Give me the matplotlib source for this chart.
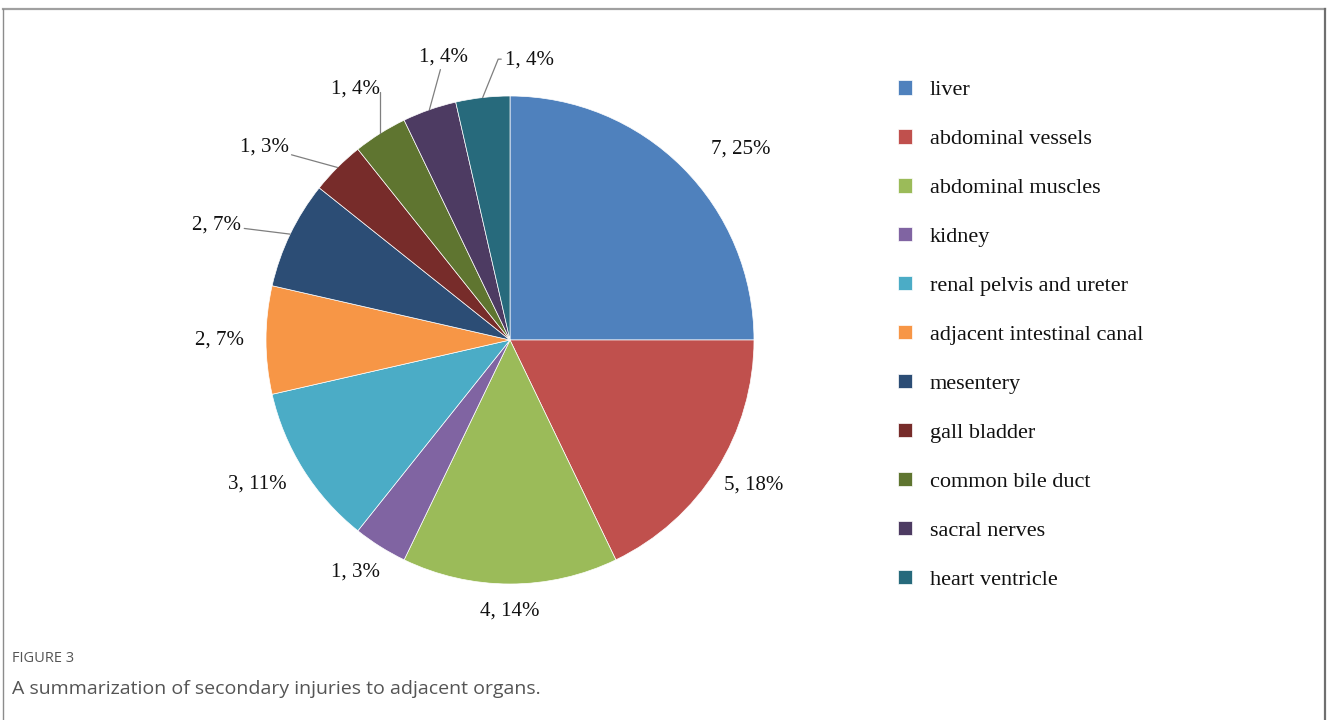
import numpy as np
import matplotlib
matplotlib.use('Agg')
import matplotlib.pyplot as plt
from matplotlib.lines import Line2D

organs = ['liver', 'abdominal vessels', 'abdominal muscles', 'kidney',
          'renal pelvis and ureter', 'adjacent intestinal canal', 'mesentery',
          'gall bladder', 'common bile duct', 'sacral nerves', 'heart ventricle']
counts = [7, 5, 4, 1, 3, 2, 2, 1, 1, 1, 1]
pct_labels = ['25%', '18%', '14%', '3%', '11%', '7%', '7%', '3%', '4%', '4%', '4%']
colors = ['#4F81BD', '#C0504D', '#9BBB59', '#8064A2', '#4BACC6', '#F79646',
          '#2C4D75', '#772C2A', '#5F7530', '#4D3B62', '#276A7C']

# label layout: distance from centre (in radii), angle tweak (deg), leader style
lab_dist = [1.23, 1.16, 1.11, 1.14, 1.19, 1.19, 1.29, 1.28, 1.21, 1.19, 1.15]
lab_rot = [-5.4, 1.4, 0, -1.5, -2.5, 0, 4.3, 6.9, -0.5, -6.1, -10.5]
leader = [None, None, None, None, None, None, 'straight', 'straight', 'elbow', 'straight', 'left']

W, H = 1327, 720
fig = plt.figure(figsize=(W / 100, H / 100), dpi=100)
ax = fig.add_axes([0, 0, 1, 1])

# pie centre at pixel (510, 340), radius 244 px
cx, cy, R = 510, 340, 244

wedges, _ = ax.pie(counts, colors=colors, startangle=90, counterclock=False,
                   radius=1, center=(0, 0), frame=True,
                   wedgeprops=dict(edgecolor='white', linewidth=0.5))
ax.set_xlim(-cx / R, (W - cx) / R)
ax.set_ylim(-(H - cy) / R, cy / R)
ax.axis('off')

serif = 'Liberation Serif'
for i, w in enumerate(wedges):
    mid = (w.theta1 + w.theta2) / 2
    ang = np.deg2rad(mid + lab_rot[i])
    tx, ty = lab_dist[i] * np.cos(ang), lab_dist[i] * np.sin(ang)
    txt = f'{counts[i]}, {pct_labels[i]}'
    if leader[i] is None:
        ax.text(tx, ty, txt, ha='center', va='center', fontsize=15,
                family=serif, color='#111111')
        continue
    ex, ey = np.cos(np.deg2rad(mid)), np.sin(np.deg2rad(mid))
    ap = dict(arrowstyle='-', color='#7f7f7f', lw=0.9, shrinkA=0, shrinkB=0)
    if leader[i] == 'elbow':
        ap.update(connectionstyle='angle,angleA=0,angleB=90,rad=0',
                  relpos=(1.0, 0.55), patchA=None, shrinkA=3)
    elif leader[i] == 'left':
        ap.update(connectionstyle='angle,angleA=180,angleB=68,rad=0',
                  relpos=(0.0, 0.55), patchA=None, shrinkA=3)
    ax.annotate(txt, xy=(ex, ey), xytext=(tx, ty), ha='center', va='center',
                fontsize=15, family=serif, color='#111111', arrowprops=ap)

leg = ax.legend(wedges, organs, loc='upper left',
                bbox_to_anchor=(898 / W, 1 - 80 / H), bbox_transform=fig.transFigure,
                frameon=False, borderpad=0, borderaxespad=0,
                handlelength=0.63, handleheight=0.63, handletextpad=0.8,
                labelspacing=1.30, prop={'family': serif, 'size': 16})
for t in leg.get_texts():
    t.set_color('#111111')

# caption
fig.text(12 / W, 1 - 659 / H, 'FIGURE 3', fontsize=10.5, family='Open Sans',
         color='#555555', va='center', ha='left')
fig.text(12 / W, 1 - 689 / H, 'A summarization of secondary injuries to adjacent organs.',
         fontsize=14, family='Open Sans', color='#555555', va='center', ha='left')

# outer frame
fig.add_artist(Line2D([3 / W, 1325 / W], [1 - 9 / H, 1 - 9 / H], color='#a0a0a0', lw=1.6,
                      transform=fig.transFigure))
fig.add_artist(Line2D([3 / W, 3 / W], [0, 1 - 9 / H], color='#8c8c8c', lw=1.0,
                      transform=fig.transFigure))
fig.add_artist(Line2D([1325 / W, 1325 / W], [0, 1 - 9 / H], color='#6f6f6f', lw=1.6,
                      transform=fig.transFigure))

fig.savefig('out.png', dpi=100)
